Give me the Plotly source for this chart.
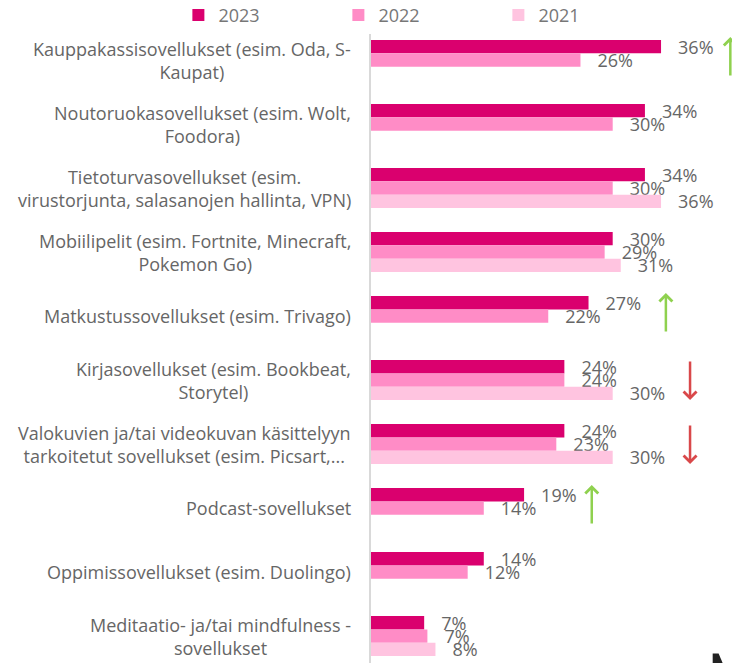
import plotly.graph_objects as go

categories = [
    "Kauppakassisovellukset (esim. Oda, S-<br>Kaupat)",
    "Noutoruokasovellukset (esim. Wolt,<br>Foodora)",
    "Tietoturvasovellukset (esim.<br>virustorjunta, salasanojen hallinta, VPN)",
    "Mobiilipelit (esim. Fortnite, Minecraft,<br>Pokemon Go)",
    "Matkustussovellukset (esim. Trivago)",
    "Kirjasovellukset (esim. Bookbeat,<br>Storytel)",
    "Valokuvien ja/tai videokuvan käsittelyyn<br>tarkoitetut sovellukset (esim. Picsart,...",
    "Podcast-sovellukset",
    "Oppimissovellukset (esim. Duolingo)",
    "Meditaatio- ja/tai mindfulness -<br>sovellukset",
]
values_2023 = [36, 34, 34, 30, 27, 24, 24, 19, 14, 6.6]
values_2022 = [26, 30, 30, 29, 22, 24, 23, 14, 12, 7]
values_2021 = [None, None, 36, 31, None, 30, 30, None, None, 8]

# trend arrows: category index, x position (%), direction
arrow_cats = [0, 4, 5, 6, 7]
arrow_x = [44.6, 36.6, 39.6, 39.6, 27.4]
arrow_up = [True, True, False, False, True]

COL_2023 = "#DA006E"
COL_2022 = "#FF8CC6"
COL_2021 = "#FFC4E0"
GREEN = "#8FD14F"
RED = "#D9484A"
TXT = "#666666"
FONT = "Open Sans"
FS = 18

PAD = "\u00a0\u00a0\u00a0"

fig = go.Figure()
for name, vals, col in [("2023", values_2023, COL_2023),
                        ("2022", values_2022, COL_2022),
                        ("2021", values_2021, COL_2021)]:
    fig.add_trace(go.Bar(
        y=categories,
        x=vals,
        name=name,
        orientation="h",
        marker=dict(color=col, line_width=0),
        text=[None if v is None else f"{PAD}{round(v)}%" for v in vals],
        textposition="outside",
        constraintext="none",
        cliponaxis=False,
        textfont=dict(family=FONT, size=FS, color=TXT),
    ))

# category labels: right aligned block, centred lines
for c in categories:
    fig.add_annotation(
        x=0, xref="paper", y=c, yref="y",
        text=c, showarrow=False,
        xanchor="right", yanchor="middle", align="center", xshift=-18,
        font=dict(family=FONT, size=FS, color=TXT),
    )

# trend arrows
for i, xv, up in zip(arrow_cats, arrow_x, arrow_up):
    col = GREEN if up else RED
    fig.add_annotation(
        x=xv, y=categories[i], xref="x", yref="y",
        ax=0, ay=40 if up else -40,
        text="", showarrow=True,
        arrowhead=4, arrowsize=1, arrowwidth=2.5, arrowcolor=col,
        yshift=23 if up else -20,
        standoff=0,
    )

# page body adds 8px around the figure
fig.update_layout(
    width=732,
    height=655,
    margin=dict(l=363, r=0, t=20, b=0, autoexpand=False),
    paper_bgcolor="white",
    plot_bgcolor="white",
    barmode="group",
    bargap=0.375,
    bargroupgap=0,
    showlegend=True,
    legend=dict(
        orientation="h", x=-0.522, xanchor="left", y=1.02, yanchor="middle",
        entrywidth=115, itemwidth=30,
        font=dict(family=FONT, size=FS, color="#777777"),
        traceorder="normal",
    ),
    xaxis=dict(range=[0, 45.8], visible=False, showgrid=False, zeroline=False),
    yaxis=dict(
        categoryorder="array", categoryarray=categories,
        range=[9.42, -0.5], autorange=False,
        showticklabels=False, ticks="", showgrid=False,
        showline=True, linecolor="#D9D9D9", linewidth=2,
    ),
    shapes=[dict(
        type="path", xref="paper", yref="paper",
        path="M 0.926 0.0 L 0.926 0.015 L 0.942 0.015 L 0.953 0.0 Z",
        fillcolor="#222222", line_width=0,
    )],
)

fig.write_html("out.html")
